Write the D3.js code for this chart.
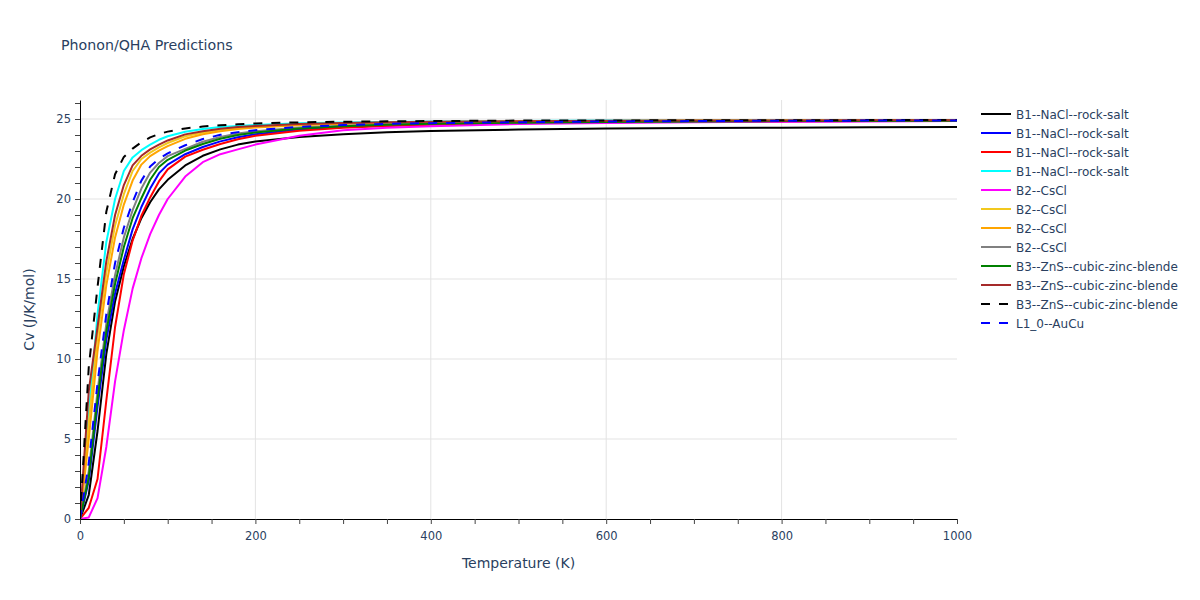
<!DOCTYPE html>
<html>
<head>
<meta charset="utf-8">
<script src="https://cdn.jsdelivr.net/npm/d3@7"></script>
<style>
  html, body { margin: 0; padding: 0; background: #fff; }
  svg { display: block; font-family: "DejaVu Sans", Verdana, sans-serif; }
</style>
</head>
<body>
<svg id="chart" width="1200" height="600"></svg>
<script>
// ---------------- data ----------------
const temperatures = [0,10,20,30,40,50,60,70,80,90,100,120,140,160,180,200,250,300,350,400,500,600,700,800,900,1000];

const seriesNames = [
  "B1--NaCl--rock-salt",
  "B1--NaCl--rock-salt",
  "B1--NaCl--rock-salt",
  "B1--NaCl--rock-salt",
  "B2--CsCl",
  "B2--CsCl",
  "B2--CsCl",
  "B2--CsCl",
  "B3--ZnS--cubic-zinc-blende",
  "B3--ZnS--cubic-zinc-blende",
  "B3--ZnS--cubic-zinc-blende",
  "L1_0--AuCu"
];

const cvBlack   = [0,1.5,5.5,10.3,13.6,15.8,17.5,18.8,19.8,20.6,21.2,22.1,22.7,23.1,23.4,23.6,23.88,24.05,24.17,24.25,24.34,24.4,24.43,24.46,24.48,24.5];
const cvBlue    = [0,2.4,7.0,11.2,14.1,16.2,18.1,19.5,20.65,21.6,22.15,22.8,23.25,23.6,23.86,24.05,24.34,24.51,24.6,24.67,24.75,24.8,24.84,24.86,24.88,24.89];
const cvRed     = [0,0.7,2.5,7.4,12.0,15.3,17.4,18.95,20.1,21.1,21.85,22.65,23.08,23.44,23.73,23.95,24.26,24.45,24.56,24.64,24.73,24.79,24.83,24.85,24.87,24.88];
const cvCyan    = [0,6.5,12.8,17.3,20.0,21.75,22.6,23.05,23.4,23.7,23.92,24.2,24.38,24.5,24.57,24.63,24.73,24.78,24.82,24.85,24.88,24.9,24.91,24.92,24.925,24.93];
const cvMagenta = [0,0.1,1.3,4.5,8.6,11.8,14.4,16.3,17.8,19.0,20.0,21.4,22.3,22.8,23.1,23.4,23.95,24.3,24.45,24.55,24.68,24.75,24.79,24.83,24.85,24.87];
const cvGold    = [0,6.0,11.5,15.4,18.35,20.3,21.75,22.5,22.9,23.22,23.5,23.92,24.16,24.32,24.44,24.52,24.65,24.73,24.77,24.81,24.855,24.88,24.9,24.91,24.915,24.92];
const cvOrange  = [0,5.0,10.5,14.6,17.6,19.65,21.15,22.15,22.68,23.02,23.3,23.76,24.05,24.23,24.37,24.47,24.61,24.7,24.75,24.79,24.84,24.87,24.89,24.9,24.91,24.92];
const cvGray    = [0,3.0,8.0,12.2,15.25,17.6,19.3,20.65,21.65,22.25,22.68,23.13,23.58,23.88,24.09,24.23,24.47,24.58,24.67,24.73,24.79,24.83,24.86,24.88,24.89,24.9];
const cvGreen   = [0,2.6,7.5,11.7,14.7,17.0,18.8,20.05,21.2,22.0,22.45,23.03,23.44,23.77,24.0,24.15,24.41,24.55,24.64,24.7,24.77,24.82,24.85,24.87,24.88,24.89];
const cvBrown   = [0,8.0,12.0,16.1,19.0,20.87,22.1,22.7,23.1,23.4,23.66,24.04,24.24,24.39,24.5,24.56,24.68,24.75,24.8,24.83,24.86,24.89,24.9,24.91,24.92,24.925];
const cvDashBlack = [0,9.5,14.5,19.2,21.55,22.63,23.15,23.55,23.85,24.07,24.21,24.41,24.53,24.61,24.67,24.72,24.79,24.83,24.855,24.87,24.9,24.91,24.92,24.925,24.93,24.93];
const cvDashBlue  = [0,3.5,8.5,12.8,16.0,18.2,19.8,21.15,22.03,22.52,22.85,23.36,23.75,24.01,24.18,24.3,24.51,24.62,24.7,24.74,24.8,24.845,24.87,24.89,24.9,24.91];

const seriesValues = [cvBlack, cvBlue, cvRed, cvCyan, cvMagenta, cvGold, cvOrange, cvGray, cvGreen, cvBrown, cvDashBlack, cvDashBlue];

const xTickLabels = [0,200,400,600,800,1000];
const yTickLabels = [0,5,10,15,20,25];

// ---------------- styles ----------------
const seriesColors = ["black","blue","red","cyan","magenta","#f2c81e","orange","gray","green","brown","black","blue"];
const seriesDashed = [false,false,false,false,false,false,false,false,false,false,true,true];
const textColor = "#2a3f5f";
const gridColor = "#e3e3e3";

// ---------------- layout ----------------
const svg = d3.select("#chart");
const plotLeft = 80, plotRight = 957, plotTop = 100, plotBottom = 519;

const x = d3.scaleLinear().domain([0, 1000]).range([plotLeft, plotRight]);
const y = d3.scaleLinear().domain([0, 26.1875]).range([plotBottom, plotTop]);

// gridlines
svg.append("g").selectAll("line").data(xTickLabels.filter(v => v > 0 && v < 1000)).join("line")
  .attr("x1", d => x(d)).attr("x2", d => x(d))
  .attr("y1", plotTop).attr("y2", plotBottom)
  .attr("stroke", gridColor).attr("stroke-width", 1);
svg.append("g").selectAll("line").data(yTickLabels.filter(v => v > 0)).join("line")
  .attr("x1", plotLeft).attr("x2", plotRight)
  .attr("y1", d => y(d)).attr("y2", d => y(d))
  .attr("stroke", gridColor).attr("stroke-width", 1);

// clip
svg.append("defs").append("clipPath").attr("id", "plotclip")
  .append("rect").attr("x", plotLeft).attr("y", plotTop)
  .attr("width", plotRight - plotLeft).attr("height", plotBottom - plotTop);

// lines
const line = d3.line()
  .x((d, i) => x(temperatures[i]))
  .y(d => y(d));

const gLines = svg.append("g").attr("clip-path", "url(#plotclip)");
seriesValues.forEach((vals, k) => {
  gLines.append("path")
    .datum(vals)
    .attr("d", line)
    .attr("fill", "none")
    .attr("stroke", seriesColors[k])
    .attr("stroke-width", 2)
    .attr("stroke-linejoin", "round")
    .attr("stroke-dasharray", seriesDashed[k] ? "9,9" : null);
});

const fontFam = "'DejaVu Sans', Verdana, sans-serif";

// axes
const xMinor = d3.range(0, 1001, 50);
const xAxis = d3.axisBottom(x)
  .tickValues(xMinor)
  .tickSize(5)
  .tickSizeOuter(0)
  .tickFormat(d => xTickLabels.includes(d) ? String(d) : "");
const gx = svg.append("g").attr("transform", `translate(0,${plotBottom})`).call(xAxis);
gx.select(".domain").attr("stroke", "black").attr("stroke-width", 1);
gx.selectAll(".tick line").attr("stroke", "#444");
gx.selectAll(".tick text").attr("fill", textColor).attr("font-size", 11.5).attr("dy", "1.1em")
  .style("font-family", fontFam);

const yMinor = d3.range(0, 27, 1);
const yAxis = d3.axisLeft(y)
  .tickValues(yMinor)
  .tickSize(5)
  .tickSizeOuter(0)
  .tickFormat(d => yTickLabels.includes(d) ? String(d) : "");
const gy = svg.append("g").attr("transform", `translate(${plotLeft},0)`).call(yAxis);
gy.select(".domain").attr("stroke", "black").attr("stroke-width", 1);
gy.selectAll(".tick line").attr("stroke", "#444");
gy.selectAll(".tick text").attr("fill", textColor).attr("font-size", 11.5).attr("x", -9)
  .style("font-family", fontFam);

// titles
svg.append("text").attr("x", 61).attr("y", 50)
  .attr("fill", textColor).attr("font-size", 14.2).style("font-family", fontFam)
  .text("Phonon/QHA Predictions");

svg.append("text").attr("x", (plotLeft + plotRight) / 2).attr("y", 568)
  .attr("text-anchor", "middle").attr("fill", textColor).attr("font-size", 14).style("font-family", fontFam)
  .text("Temperature (K)");

svg.append("text")
  .attr("transform", `translate(34,${(plotTop + plotBottom) / 2}) rotate(-90)`)
  .attr("text-anchor", "middle").attr("fill", textColor).attr("font-size", 14).style("font-family", fontFam)
  .text("Cv (J/K/mol)");

// legend
const legend = svg.append("g").attr("transform", "translate(981,114)");
seriesNames.forEach((name, k) => {
  const row = legend.append("g").attr("transform", `translate(0,${k * 19})`);
  row.append("line").attr("x1", 0).attr("x2", 30).attr("y1", 0).attr("y2", 0)
    .attr("stroke", seriesColors[k]).attr("stroke-width", 2)
    .attr("stroke-dasharray", seriesDashed[k] ? "9,9" : null);
  row.append("text").attr("x", 35).attr("y", 4.5)
    .attr("fill", textColor).attr("font-size", 12).style("font-family", fontFam)
    .text(name);
});
</script>
</body>
</html>
